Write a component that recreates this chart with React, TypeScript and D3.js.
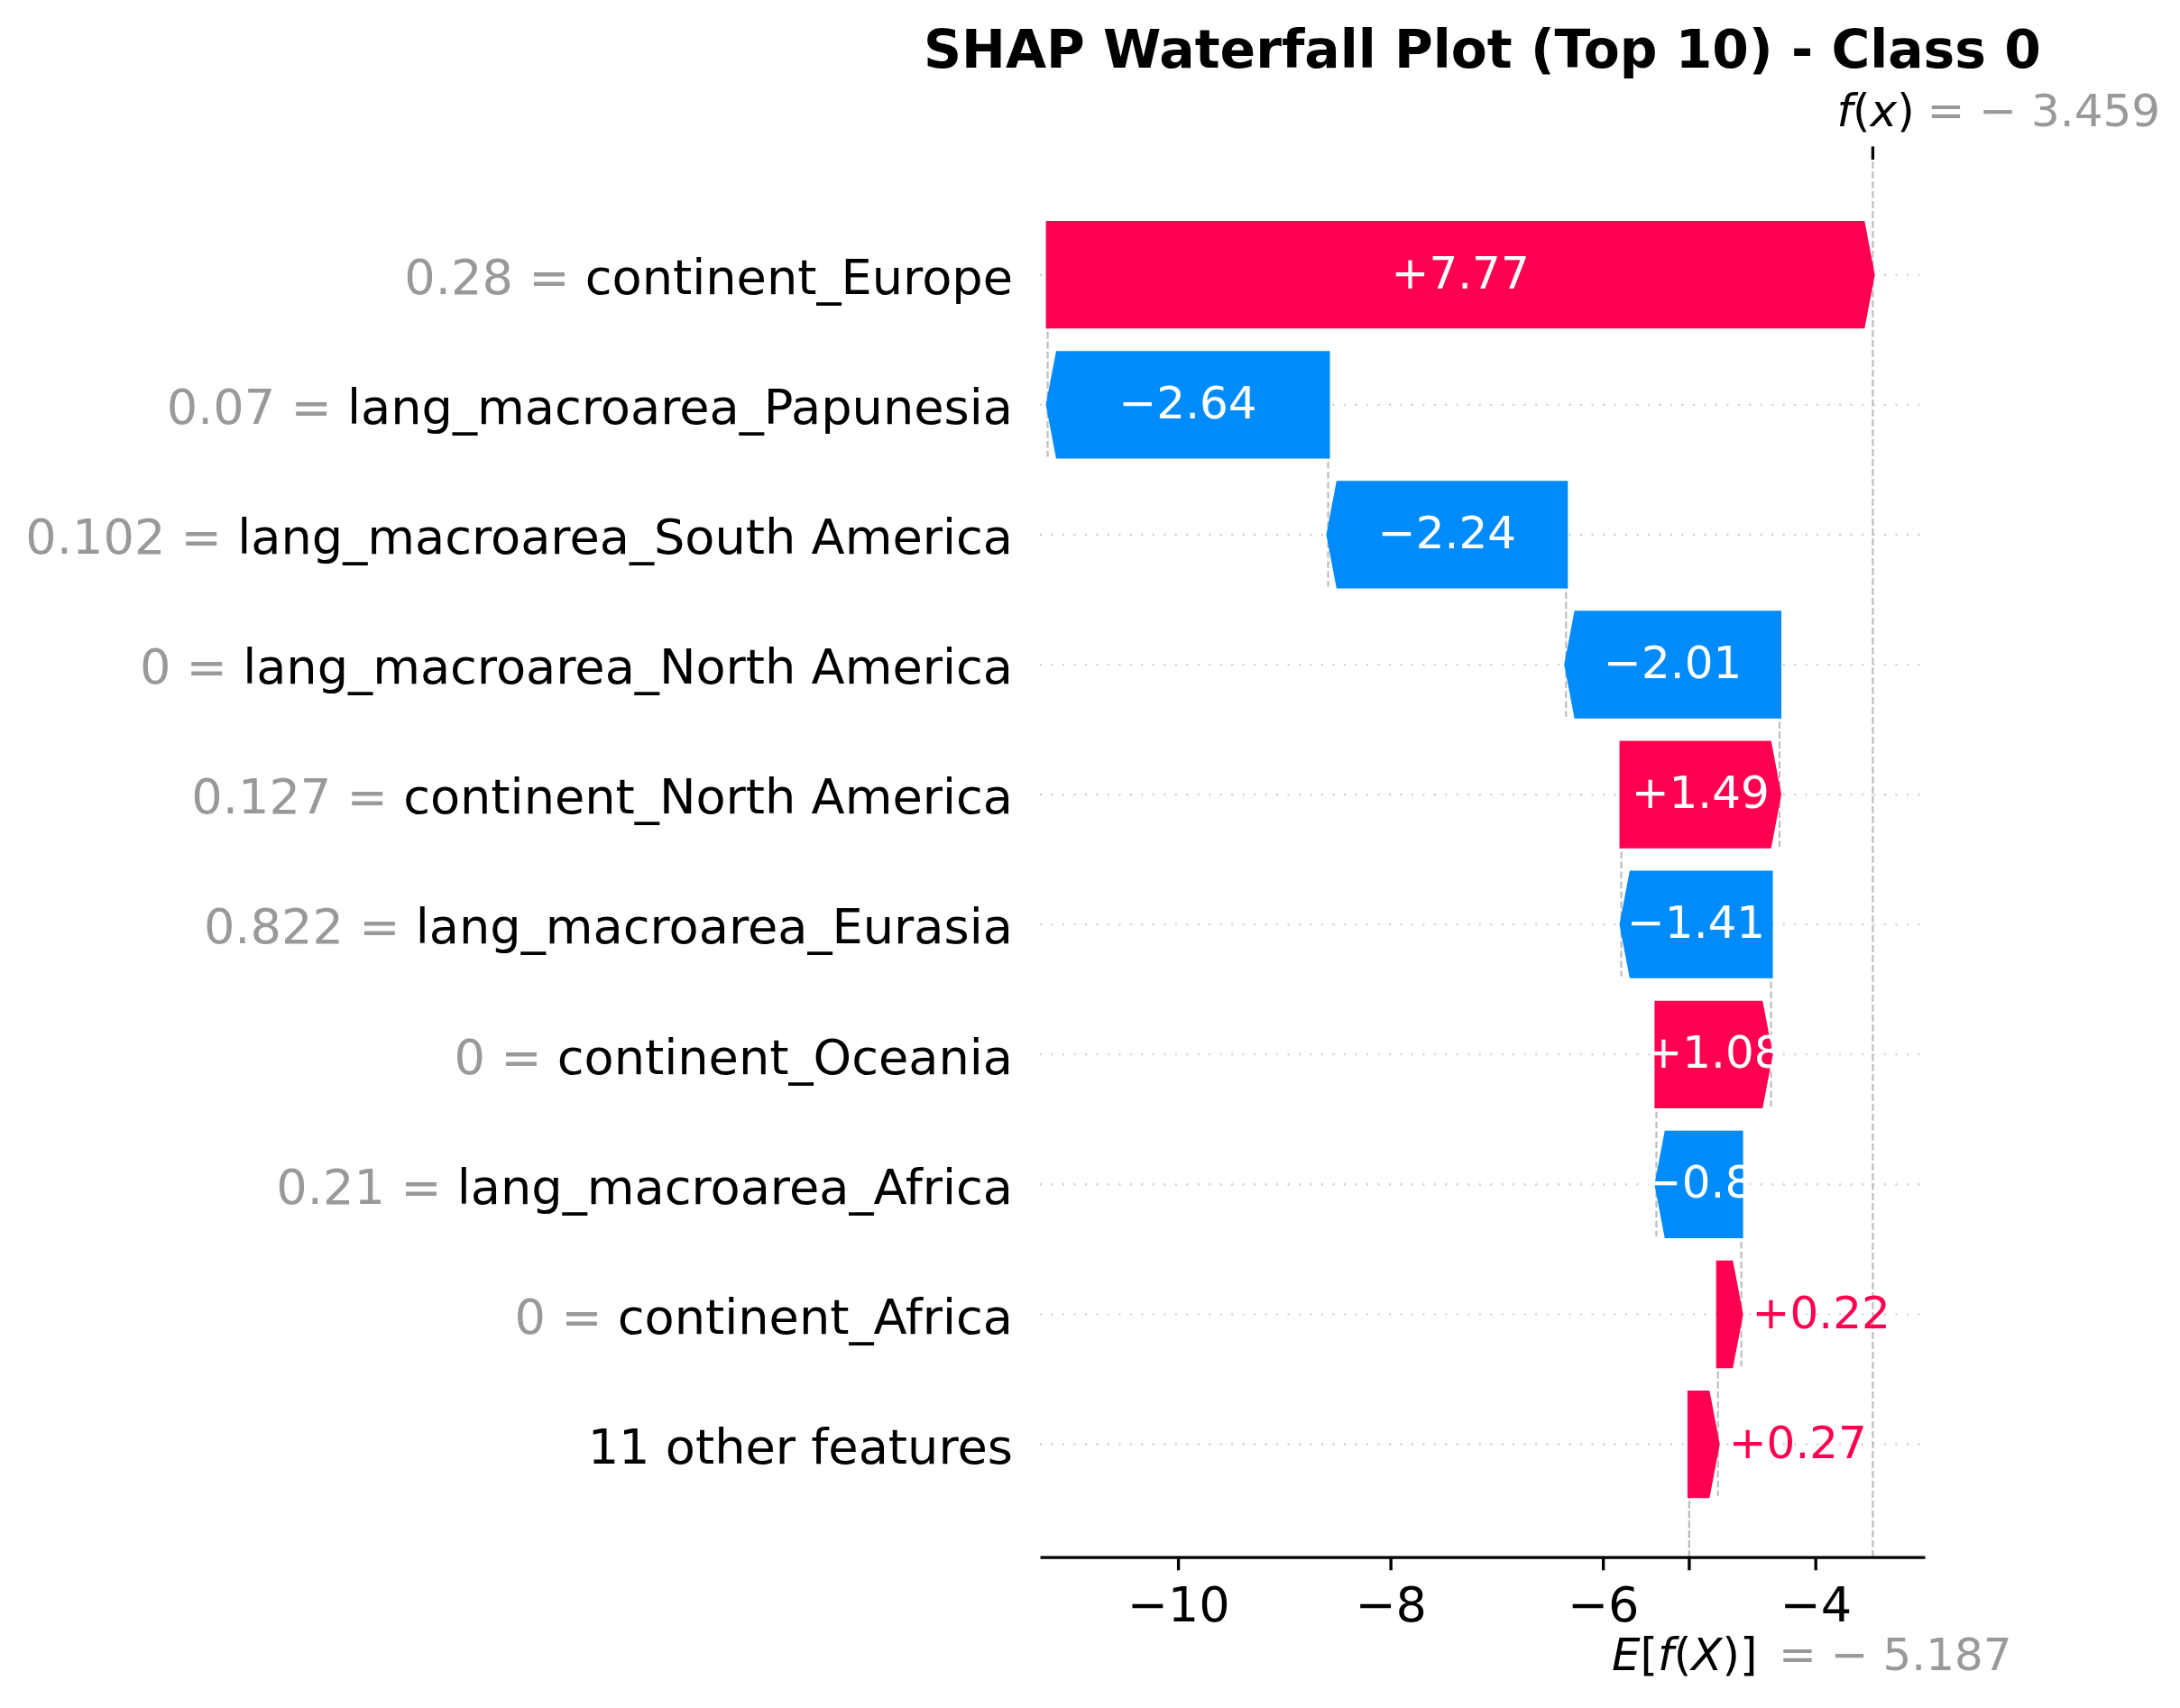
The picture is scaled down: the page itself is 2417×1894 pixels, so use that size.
import { useEffect, useRef } from "react"
import * as d3 from "d3"

// SHAP contributions, top feature first
const featureNames = [
  "continent_Europe",
  "lang_macroarea_Papunesia",
  "lang_macroarea_South America",
  "lang_macroarea_North America",
  "continent_North America",
  "lang_macroarea_Eurasia",
  "continent_Oceania",
  "lang_macroarea_Africa",
  "continent_Africa",
  "11 other features",
]
const featureValues = ["0.28", "0.07", "0.102", "0", "0.127", "0.822", "0", "0.21", "0", ""]
const shapValues = [7.77, -2.64, -2.24, -2.01, 1.49, -1.41, 1.08, -0.8, 0.22, 0.27]

const baseValue = -5.187
const fxValue = -3.459
const xTicks = [-10, -8, -6, -4]

const RED = "#ff0051"
const BLUE = "#008bfb"
const FONT = "DejaVu Sans"

export default function App() {
  const svgRef = useRef<SVGSVGElement>(null)

  useEffect(() => {
    if (!svgRef.current) return
    const svg = d3.select(svgRef.current)
    svg.selectAll("*").remove()

    const n = shapValues.length
    const x = d3.scaleLinear().domain([-11.3, -2.97]).range([1153, 2134])
    const y = d3.scaleLinear().domain([-0.868, 9.886]).range([1726.7, 177])
    const [yMin, yMax] = y.domain()
    const halfBar = 0.4
    const headLen = 11

    // cumulative positions, built from the base value upwards
    type Bar = { row: number; start: number; end: number; value: number }
    const bars: Bar[] = new Array(n)
    let cur = baseValue
    for (let i = n - 1; i >= 0; i--) {
      const start = cur
      cur += shapValues[i]
      bars[i] = { row: n - 1 - i, start, end: cur, value: shapValues[i] }
    }

    const plot = svg.append("g")

    // dotted row guides
    plot
      .selectAll(".row-line")
      .data(bars)
      .enter()
      .append("line")
      .attr("x1", x.range()[0])
      .attr("x2", x.range()[1])
      .attr("y1", (d) => y(d.row))
      .attr("y2", (d) => y(d.row))
      .attr("stroke", "#cccccc")
      .attr("stroke-width", 2.08)
      .attr("stroke-dasharray", "2.08 10.4")

    // connectors at the start of each bar, down through the row below
    plot
      .selectAll(".connector")
      .data(bars)
      .enter()
      .append("line")
      .attr("x1", (d) => x(d.start))
      .attr("x2", (d) => x(d.start))
      .attr("y1", (d) => y(Math.min(d.row + halfBar, yMax)))
      .attr("y2", (d) => y(Math.max(d.row - 1 - halfBar, yMin)))
      .attr("stroke", "#bbbbbb")
      .attr("stroke-width", 2.08)
      .attr("stroke-dasharray", "7.7 3.3")

    // E[f(X)] and f(x) guides
    plot
      .append("line")
      .attr("x1", x(baseValue))
      .attr("x2", x(baseValue))
      .attr("y1", y(yMin))
      .attr("y2", y(yMin) - (y(yMin) - y(yMax)) / n)
      .attr("stroke", "#bbbbbb")
      .attr("stroke-width", 2.08)
      .attr("stroke-dasharray", "7.7 3.3")
    plot
      .append("line")
      .attr("x1", x(fxValue))
      .attr("x2", x(fxValue))
      .attr("y1", y(yMin))
      .attr("y2", y(yMax))
      .attr("stroke", "#bbbbbb")
      .attr("stroke-width", 2.08)
      .attr("stroke-dasharray", "7.7 3.3")

    // arrows
    const arrowPath = (d: Bar) => {
      const x0 = x(d.start)
      const x1 = x(d.end)
      const dir = d.value >= 0 ? 1 : -1
      const hl = Math.min(Math.abs(x1 - x0), headLen)
      const top = y(d.row + halfBar)
      const bot = y(d.row - halfBar)
      const mid = y(d.row)
      return `M${x0},${top}L${x1 - dir * hl},${top}L${x1},${mid}L${x1 - dir * hl},${bot}L${x0},${bot}Z`
    }
    plot
      .selectAll(".arrow")
      .data(bars)
      .enter()
      .append("path")
      .attr("d", arrowPath)
      .attr("fill", (d) => (d.value >= 0 ? RED : BLUE))
      .attr("stroke", (d) => (d.value >= 0 ? RED : BLUE))
      .attr("stroke-width", 4)
      .attr("stroke-linejoin", "miter")

    // value labels: inside the arrow when it is long enough, otherwise after its tip
    const fmt = (v: number) => (v >= 0 ? "+" : "\u2212") + d3.format("")(Math.abs(v))
    const inside = (d: Bar) => Math.abs(d.value) >= 0.5
    plot
      .selectAll(".val")
      .data(bars)
      .enter()
      .append("text")
      .attr("x", (d) => (inside(d) ? x((d.start + d.end) / 2) : x(d.end) + (d.value >= 0 ? 12 : -12)))
      .attr("y", (d) => y(d.row) + 15)
      .attr("text-anchor", (d) => (inside(d) ? "middle" : d.value >= 0 ? "start" : "end"))
      .attr("font-family", FONT)
      .attr("font-size", 50)
      .attr("fill", (d) => (inside(d) ? "white" : d.value >= 0 ? RED : BLUE))
      .text((d) => fmt(d.value))

    // feature labels
    const labels = svg
      .selectAll(".feat")
      .data(bars)
      .enter()
      .append("text")
      .attr("x", 1123)
      .attr("y", (d) => y(d.row) + 21.3)
      .attr("text-anchor", "end")
      .attr("font-family", FONT)
      .attr("font-size", 54.17)
    labels.each(function (_d, i) {
      const t = d3.select(this)
      if (featureValues[i] !== "") {
        t.append("tspan").attr("fill", "#999999").text(`${featureValues[i]} = `)
      }
      t.append("tspan").attr("fill", "black").text(featureNames[i])
    })

    // bottom axis
    const axisY = y(yMin)
    const xAxis = svg
      .append("g")
      .attr("transform", `translate(0,${axisY})`)
      .call(
        d3
          .axisBottom(x)
          .tickValues(xTicks)
          .tickSize(14.6)
          .tickSizeOuter(0)
          .tickPadding(18.5)
          .tickFormat((d) => d3.format("d")(d as number)),
      )
    xAxis.select(".domain").attr("stroke", "black").attr("stroke-width", 3.33)
    xAxis.selectAll(".tick line").attr("stroke", "black").attr("stroke-width", 3.33)
    xAxis
      .selectAll(".tick text")
      .attr("font-family", FONT)
      .attr("font-size", 54.17)
      .attr("fill", "black")

    // E[f(X)] tick and label
    svg
      .append("line")
      .attr("x1", x(baseValue))
      .attr("x2", x(baseValue))
      .attr("y1", axisY)
      .attr("y2", axisY + 14.6)
      .attr("stroke", "black")
      .attr("stroke-width", 3.33)
    const eLabel = svg
      .append("text")
      .attr("x", x(baseValue) - 86)
      .attr("y", 1851.7)
      .attr("font-family", FONT)
      .attr("font-size", 50)
    eLabel.append("tspan").attr("font-style", "italic").text("E")
    eLabel.append("tspan").text("[")
    eLabel.append("tspan").attr("font-style", "italic").text("f")
    eLabel.append("tspan").text("(")
    eLabel.append("tspan").attr("font-style", "italic").text("X")
    eLabel.append("tspan").text(")]")
    svg
      .append("text")
      .attr("x", x(baseValue) + 99)
      .attr("y", 1851.7)
      .attr("font-family", FONT)
      .attr("font-size", 50)
      .attr("fill", "#999999")
      .text(`= \u2212 ${d3.format(".3f")(Math.abs(baseValue))}`)

    // f(x) tick and label on top
    svg
      .append("line")
      .attr("x1", x(fxValue))
      .attr("x2", x(fxValue))
      .attr("y1", y(yMax))
      .attr("y2", y(yMax) - 14.6)
      .attr("stroke", "black")
      .attr("stroke-width", 3.33)
    const fLabel = svg
      .append("text")
      .attr("x", x(fxValue) - 40)
      .attr("y", 140)
      .attr("font-family", FONT)
      .attr("font-size", 50)
    fLabel.append("tspan").attr("font-style", "italic").text("f")
    fLabel.append("tspan").text("(")
    fLabel.append("tspan").attr("font-style", "italic").text("x")
    fLabel.append("tspan").text(")")
    svg
      .append("text")
      .attr("x", x(fxValue) + 60)
      .attr("y", 140)
      .attr("font-family", FONT)
      .attr("font-size", 50)
      .attr("fill", "#999999")
      .text(`= \u2212 ${d3.format(".3f")(Math.abs(fxValue))}`)

    // title
    svg
      .append("text")
      .attr("x", (x.range()[0] + x.range()[1]) / 2)
      .attr("y", 75)
      .attr("text-anchor", "middle")
      .attr("font-family", FONT)
      .attr("font-weight", "bold")
      .attr("font-size", 58.33)
      .text("SHAP Waterfall Plot (Top 10) - Class 0")
  }, [])

  return (
    <svg
      ref={svgRef}
      width={2417}
      height={1894}
      style={{ position: "absolute", left: 0, top: 0, background: "white" }}
    />
  )
}
